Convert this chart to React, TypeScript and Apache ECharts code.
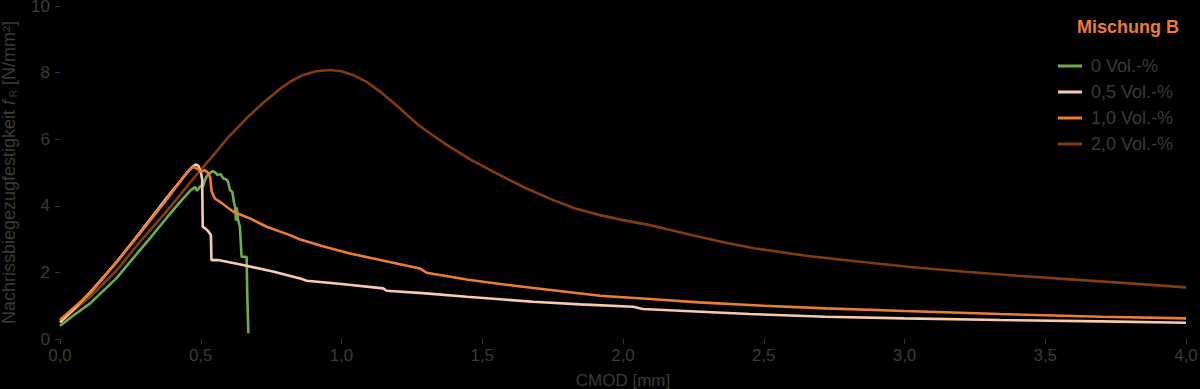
import React, { useEffect, useRef } from "react";
import * as echarts from "echarts";

const seriesNames = ["0 Vol.-%", "0,5 Vol.-%", "1,0 Vol.-%", "2,0 Vol.-%"];
const seriesColors = ["#70ad47", "#f8cbad", "#ed7d31", "#843c0c"];

const xTickValues = [0, 0.5, 1, 1.5, 2, 2.5, 3, 3.5, 4];

const vol0: number[][] = [
  [0, 0.4], [0.05, 0.72], [0.107, 1.07], [0.2, 1.82], [0.284, 2.67], [0.32, 3.03],
  [0.38, 3.65], [0.43, 4.15], [0.462, 4.45], [0.48, 4.56], [0.487, 4.45], [0.5, 4.6],
  [0.508, 4.58], [0.515, 4.77], [0.522, 4.9], [0.532, 4.98], [0.543, 5.04], [0.555, 4.98],
  [0.56, 4.92], [0.57, 4.96], [0.58, 4.82], [0.59, 4.8], [0.597, 4.72], [0.604, 4.47],
  [0.612, 4.42], [0.618, 4.1], [0.622, 3.97], [0.625, 3.55], [0.628, 3.95], [0.632, 3.6],
  [0.639, 3.37], [0.645, 2.47], [0.663, 2.47], [0.665, 1.42], [0.669, 0.17],
];

const vol05: number[][] = [
  [0, 0.5], [0.05, 0.9], [0.107, 1.4], [0.2, 2.3], [0.284, 3.2], [0.38, 4.25],
  [0.45, 4.98], [0.47, 5.17], [0.482, 5.24], [0.492, 5.2], [0.5, 5.02], [0.505, 4.8],
  [0.507, 3.37], [0.515, 3.33], [0.525, 3.25], [0.536, 3.12], [0.538, 2.37], [0.562, 2.37],
  [0.65, 2.22], [0.76, 2.02], [0.853, 1.82], [0.876, 1.75], [1.0, 1.65], [1.148, 1.52],
  [1.16, 1.45], [1.3, 1.37], [1.445, 1.27], [1.68, 1.12], [1.85, 1.04], [2.036, 0.97],
  [2.07, 0.9], [2.22, 0.84], [2.45, 0.75], [2.72, 0.67], [3.0, 0.62], [3.34, 0.57],
  [3.7, 0.53], [4.0, 0.49],
];

const vol10: number[][] = [
  [0, 0.57], [0.05, 0.95], [0.107, 1.37], [0.2, 2.3], [0.284, 3.17], [0.38, 4.2],
  [0.44, 4.88], [0.462, 5.1], [0.474, 5.17], [0.49, 5.1], [0.5, 5.03], [0.515, 5.07],
  [0.525, 5.0], [0.533, 4.87], [0.539, 4.42], [0.55, 4.22], [0.568, 4.12], [0.6, 3.92],
  [0.616, 3.82], [0.675, 3.62], [0.734, 3.37], [0.817, 3.12], [0.853, 2.99], [0.94, 2.77],
  [1.03, 2.57], [1.15, 2.35], [1.279, 2.12], [1.302, 1.99], [1.45, 1.78], [1.622, 1.59],
  [1.918, 1.3], [2.096, 1.2], [2.27, 1.1], [2.5, 1.0], [2.72, 0.92], [3.0, 0.84],
  [3.34, 0.75], [3.7, 0.67], [4.0, 0.62],
];

const vol20: number[][] = [
  [0, 0.5], [0.05, 0.87], [0.107, 1.27], [0.2, 2.05], [0.284, 2.92], [0.38, 3.85],
  [0.426, 4.32], [0.48, 4.88], [0.545, 5.52], [0.6, 6.08], [0.663, 6.63], [0.72, 7.08],
  [0.78, 7.5], [0.82, 7.74], [0.864, 7.93], [0.91, 8.04], [0.96, 8.08], [1.0, 8.04],
  [1.04, 7.93], [1.09, 7.72], [1.137, 7.43], [1.2, 6.98], [1.255, 6.56], [1.27, 6.45],
  [1.31, 6.2], [1.374, 5.83], [1.46, 5.38], [1.563, 4.92], [1.65, 4.55], [1.752, 4.17],
  [1.83, 3.92], [1.918, 3.72], [2.0, 3.57], [2.096, 3.42], [2.18, 3.25], [2.27, 3.07],
  [2.37, 2.88], [2.47, 2.72], [2.65, 2.5], [2.843, 2.32], [3.02, 2.16], [3.217, 2.02],
  [3.4, 1.9], [3.59, 1.79], [3.8, 1.67], [4.0, 1.55],
];

const seriesData = [vol0, vol05, vol10, vol20];

const FONT = "'Liberation Sans', Arial, sans-serif";
const TEXT = "#3a3a3a";

export default function App() {
  const ref = useRef<HTMLDivElement>(null);
  useEffect(() => {
    document.body.style.margin = "0";
    document.body.style.background = "#000";
    const chart = echarts.init(ref.current!, undefined, { renderer: "svg" });
    chart.setOption({
      animation: false,
      backgroundColor: "#000",
      textStyle: { fontFamily: FONT },
      title: {
        text: "Mischung B",
        left: 1077,
        top: 18,
        padding: 0,
        textStyle: { color: "#ed7d31", fontSize: 18, fontWeight: "bold", fontFamily: FONT },
      },
      legend: {
        orient: "vertical",
        left: 1058,
        top: 57,
        padding: 0,
        itemWidth: 24,
        itemHeight: 3,
        itemGap: 8,
        icon: "rect",
        data: seriesNames,
        textStyle: { color: TEXT, fontSize: 18, fontFamily: FONT, padding: [0, 0, 0, 4] },
      },
      grid: { left: 60, right: 14, top: 6, bottom: 50, outerBoundsMode: "none", containLabel: false },
      xAxis: {
        type: "value",
        min: 0,
        max: 4,
        interval: 0.5,
        name: "CMOD [mm]",
        nameLocation: "middle",
        nameGap: 33,
        nameTextStyle: { color: TEXT, fontSize: 17, fontFamily: FONT },
        axisLine: { show: false },
        axisTick: { show: true, length: 5, lineStyle: { color: "#333" } },
        splitLine: { show: false },
        axisLabel: {
          color: TEXT,
          fontSize: 17,
          margin: 8,
          fontFamily: FONT,
          customValues: xTickValues,
          formatter: (v: number) => v.toFixed(1).replace(".", ","),
        },
      },
      yAxis: {
        type: "value",
        min: 0,
        max: 10,
        interval: 2,
        name: "{a|Nachrissbiegezugfestigkeit }{i|f}{s| R}{a| [N/mm²]}",
        nameLocation: "middle",
        nameGap: 42,
        nameTextStyle: {
          color: TEXT,
          fontSize: 18,
          fontFamily: FONT,
          rich: {
            a: { color: TEXT, fontSize: 18, fontFamily: FONT },
            i: { color: TEXT, fontSize: 18, fontStyle: "italic", fontFamily: FONT },
            s: { color: TEXT, fontSize: 10, fontFamily: FONT, verticalAlign: "bottom", lineHeight: 14 },
          },
        },
        axisLine: { show: false },
        axisTick: { show: true, length: 5, lineStyle: { color: "#333" } },
        splitLine: { show: false },
        axisLabel: { color: TEXT, fontSize: 17, margin: 10, fontFamily: FONT },
      },
      series: seriesNames.map((name, i) => ({
        name,
        type: "line",
        data: seriesData[i],
        showSymbol: false,
        symbol: "none",
        smooth: false,
        z: i === 3 ? 1 : 2 + i,
        lineStyle: { color: seriesColors[i], width: 2.6 },
        itemStyle: { color: seriesColors[i] },
      })),
    });
    return () => chart.dispose();
  }, []);
  return <div ref={ref} style={{ position: "fixed", left: 0, top: 0, width: 1200, height: 389 }} />;
}
